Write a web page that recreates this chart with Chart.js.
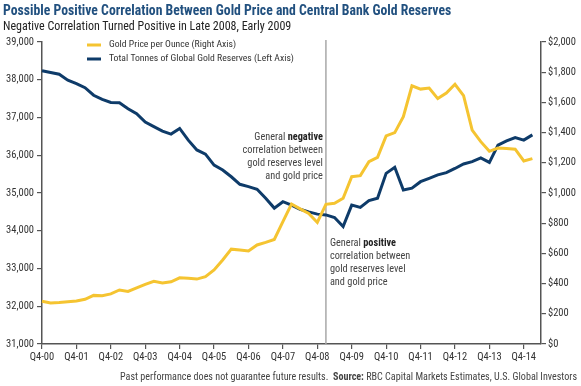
<!DOCTYPE html>
<html>
<head>
<meta charset="utf-8">
<script src="https://cdn.jsdelivr.net/npm/chart.js@4.4.1/dist/chart.umd.min.js"></script>
<style>
  body { margin: 0; background: #fff; }
  #wrap { position: relative; width: 581px; height: 386px; font-family: "Liberation Sans Narrow", "Roboto Condensed", Roboto, sans-serif; }
  #chart { position: absolute; left: 0; top: 0; }
  .title { position: absolute; left: 3px; top: 1px; font-size: 15.5px; font-weight: bold; color: #21507f; white-space: nowrap; transform: scaleX(0.885); transform-origin: left top; }
  .sub { position: absolute; left: 3px; top: 19px; font-size: 12px; color: #222; white-space: nowrap; }
  .foot { position: absolute; right: 4px; top: 371px; font-size: 10.1px; color: #444; white-space: nowrap; }
</style>
</head>
<body>
<div id="wrap">
  <canvas id="chart" width="581" height="386"></canvas>
  <div class="title">Possible Positive Correlation Between Gold Price and Central Bank Gold Reserves</div>
  <div class="sub">Negative Correlation Turned Positive in Late 2008, Early 2009</div>
  <div class="foot">Past performance does not guarantee future results.&nbsp; <b>Source:</b> RBC Capital Markets Estimates, U.S. Global Investors</div>
</div>
<script>
"use strict";
const FONT = '"Liberation Sans Narrow", "Roboto Condensed", Roboto, sans-serif';

const quarters = [
    "Q4-00",
    "Q1-01", "Q2-01", "Q3-01", "Q4-01",
    "Q1-02", "Q2-02", "Q3-02", "Q4-02",
    "Q1-03", "Q2-03", "Q3-03", "Q4-03",
    "Q1-04", "Q2-04", "Q3-04", "Q4-04",
    "Q1-05", "Q2-05", "Q3-05", "Q4-05",
    "Q1-06", "Q2-06", "Q3-06", "Q4-06",
    "Q1-07", "Q2-07", "Q3-07", "Q4-07",
    "Q1-08", "Q2-08", "Q3-08", "Q4-08",
    "Q1-09", "Q2-09", "Q3-09", "Q4-09",
    "Q1-10", "Q2-10", "Q3-10", "Q4-10",
    "Q1-11", "Q2-11", "Q3-11", "Q4-11",
    "Q1-12", "Q2-12", "Q3-12", "Q4-12",
    "Q1-13", "Q2-13", "Q3-13", "Q4-13",
    "Q1-14", "Q2-14", "Q3-14", "Q4-14",
    "Q1-15", "Q2-15"
];

// total tonnes of global gold reserves (left axis)
const reserves = [
    38240, 38190, 38145, 37990, 37900, 37790, 37590, 37480, 37400, 37390,
    37230, 37100, 36880, 36760, 36640, 36560, 36710, 36400, 36140, 36030,
    35740, 35610, 35430, 35230, 35170, 35100, 34860, 34600, 34770, 34680,
    34570, 34500, 34440, 34420, 34350, 34110, 34680, 34620, 34800, 34860,
    35520, 35680, 35080, 35130, 35300, 35390, 35480, 35540, 35650, 35770,
    35830, 35930, 35810, 36270, 36380, 36470, 36400, 36540
];

// gold price per ounce, USD (right axis)
const goldPrice = [
    283, 272, 275, 280, 285, 296, 322, 320, 332, 358,
    348, 372, 395, 415, 404, 412, 438, 435, 430, 446,
    490, 556, 628, 623, 616, 656, 673, 692, 810, 927,
    895, 865, 805, 925, 932, 965, 1108, 1115, 1207, 1236,
    1378, 1400, 1505, 1710, 1688, 1695, 1625, 1662, 1720, 1645,
    1417, 1340, 1276, 1298, 1295, 1290, 1212, 1228
];

const splitQuarter = "Q1-09";
const yellow = "#f5c431";
const navy = "#0e3b69";
const axisGrey = "#555";

const legendItems = [
    { text: "Gold Price per Ounce (Right Axis)", color: yellow },
    { text: "Total Tonnes of Global Gold Reserves (Left Axis)", color: navy }
];

const negativeNote = [["General ", "negative"], ["correlation between"], ["gold reserves level"], ["and gold price"]];
const positiveNote = [["General ", "positive"], ["correlation between"], ["gold reserves level"], ["and gold price"]];
const noteSize = 10.3;

function drawNote(ctx, lines, x, y, alignRight) {
    ctx.textBaseline = "middle";
    ctx.textAlign = "left";
    lines.forEach((parts, i) => {
        ctx.font = noteSize + "px " + FONT;
        const w0 = ctx.measureText(parts[0]).width;
        let w1 = 0;
        if(parts[1]) {
            ctx.font = "bold " + noteSize + "px " + FONT;
            w1 = ctx.measureText(parts[1]).width;
        }
        let px = alignRight ? x - w0 - w1 : x;
        const py = y + i * 13;
        ctx.fillStyle = "#444";
        ctx.font = noteSize + "px " + FONT;
        ctx.fillText(parts[0], px, py);
        if(parts[1]) {
            ctx.fillStyle = "#222";
            ctx.font = "bold " + noteSize + "px " + FONT;
            ctx.fillText(parts[1], px + w0, py);
        }
    });
}

const extras = {
    id: "extras",
    beforeDatasetsDraw(chart) {
        const ctx = chart.ctx;
        const x = chart.scales.x.getPixelForValue(quarters.indexOf(splitQuarter));
        ctx.save();
        ctx.strokeStyle = "#a8a8a8";
        ctx.lineWidth = 1.5;
        ctx.beginPath();
        ctx.moveTo(x, 40);
        ctx.lineTo(x, chart.chartArea.bottom);
        ctx.stroke();
        ctx.restore();
    },
    afterDraw(chart) {
        const ctx = chart.ctx;
        const x = chart.scales.x.getPixelForValue(quarters.indexOf(splitQuarter));
        ctx.save();
        drawNote(ctx, negativeNote, x - 3, 137, true);
        drawNote(ctx, positiveNote, x + 4, 243, false);

        legendItems.forEach((item, i) => {
            const y = 45 + i * 14;
            ctx.strokeStyle = item.color;
            ctx.lineWidth = 3;
            ctx.beginPath();
            ctx.moveTo(87, y);
            ctx.lineTo(101, y);
            ctx.stroke();
            ctx.fillStyle = "#333";
            ctx.font = "9.7px " + FONT;
            ctx.textAlign = "left";
            ctx.textBaseline = "middle";
            ctx.fillText(item.text, 109, y);
        });
        ctx.restore();
    }
};

const tickFont = { family: FONT, size: 10.5 };

new Chart(document.getElementById("chart"), {
    type: "line",
    data: {
        labels: quarters,
        datasets: [
            {
                label: "Gold Price per Ounce (Right Axis)",
                data: goldPrice,
                borderColor: yellow,
                backgroundColor: yellow,
                borderWidth: 3,
                pointRadius: 0,
                yAxisID: "y1"
            },
            {
                label: "Total Tonnes of Global Gold Reserves (Left Axis)",
                data: reserves,
                borderColor: navy,
                backgroundColor: navy,
                borderWidth: 3,
                pointRadius: 0,
                yAxisID: "y"
            }
        ]
    },
    options: {
        responsive: false,
        animation: false,
        devicePixelRatio: 1,
        layout: { padding: { top: 42, bottom: 14, left: 0, right: 0 } },
        plugins: { legend: { display: false }, tooltip: { enabled: false } },
        scales: {
            x: {
                offset: false,
                grid: { drawOnChartArea: false, tickLength: 5, color: axisGrey, lineWidth: 1.2 },
                border: { color: axisGrey, width: 1.5 },
                ticks: {
                    autoSkip: false,
                    maxRotation: 0,
                    padding: 2,
                    color: "#333",
                    font: tickFont,
                    callback: (v, i) => quarters[i].startsWith("Q4") ? quarters[i] : null
                },
                afterFit: s => { s.height = 28; }
            },
            y: {
                position: "left",
                min: 31000,
                max: 39000,
                grid: { drawOnChartArea: false, tickLength: 5, color: axisGrey, lineWidth: 1.2 },
                border: { color: axisGrey, width: 1.5 },
                ticks: {
                    stepSize: 1000,
                    padding: 3,
                    color: "#333",
                    font: tickFont,
                    callback: v => v.toLocaleString("en-US")
                },
                afterFit: s => { s.width = 42; }
            },
            y1: {
                position: "right",
                min: 0,
                max: 2000,
                grid: { drawOnChartArea: false, tickLength: 5, color: axisGrey, lineWidth: 1.2 },
                border: { color: axisGrey, width: 1.5 },
                ticks: {
                    stepSize: 200,
                    padding: 2,
                    color: "#333",
                    font: tickFont,
                    callback: v => "$" + v.toLocaleString("en-US")
                },
                afterFit: s => { s.width = 40; }
            }
        }
    },
    plugins: [extras]
});
</script>
</body>
</html>
